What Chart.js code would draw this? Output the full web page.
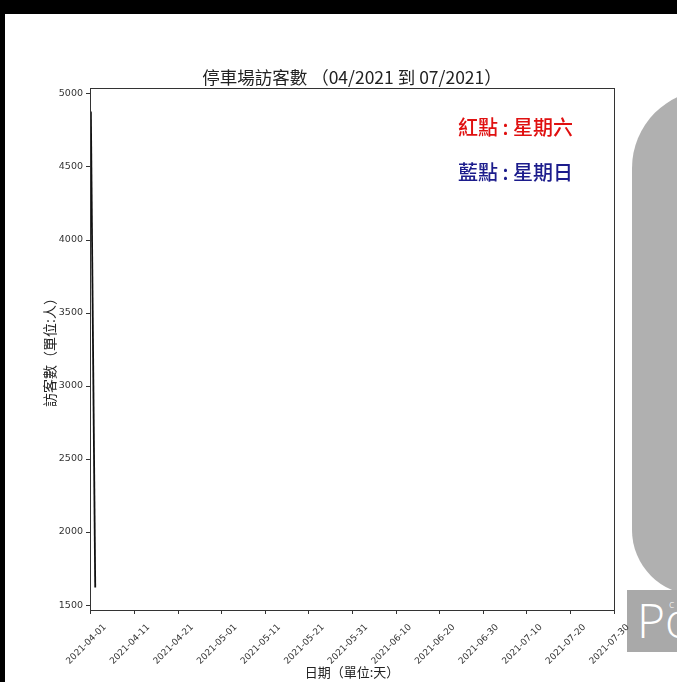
<!DOCTYPE html>
<html>
<head>
<meta charset="utf-8">
<script src="https://cdn.jsdelivr.net/npm/chart.js@4.4.0/dist/chart.umd.min.js"></script>
<style>
  body { margin: 0; background: #fff; }
  #wrap { position: relative; width: 677px; height: 682px; overflow: hidden; background: #fff; }
  #topbar { position: absolute; left: 0; top: 0; width: 677px; height: 14px; background: #000; }
  #leftbar { position: absolute; left: 0; top: 0; width: 5px; height: 682px; background: #000; }
  #panel { position: absolute; left: 632px; top: 90px; width: 140px; height: 505px; background: #b0b0b0; border-radius: 78px 0 0 65px; }
  #logo { position: absolute; left: 627px; top: 590px; width: 60px; height: 62px; background: #a9a9a9; color: #fff; overflow: hidden;
          font-family: "Open Sans", sans-serif; font-weight: 300; font-size: 48px; line-height: 60px; padding-left: 10px; box-sizing: border-box; white-space: nowrap; }
  #logo span { position: absolute; left: 42px; top: -16px; font-size: 11px; }
  canvas { position: absolute; left: 0; top: 0; }
</style>
</head>
<body>
<div id="wrap">
  <div id="panel"></div>
  <div id="logo">Po<span>c</span></div>
  <canvas id="parkChart" width="677" height="682"></canvas>
  <div id="topbar"></div>
  <div id="leftbar"></div>
</div>
<script>
// 停車場訪客數 (day offset from 2021-04-01)
var days = [0, 1];
var visitors = [4880, 1620];
var xTicks = [0, 10, 20, 30, 40, 50, 60, 70, 80, 90, 100, 110, 120];
var yTicks = [1500, 2000, 2500, 3000, 3500, 4000, 4500, 5000];
var startDate = new Date(2021, 3, 1);
var chartTitle = '停車場訪客數 （04/2021 到 07/2021）';
var notes = [
  { text: '紅點 : 星期六', color: '#e01010' },
  { text: '藍點 : 星期日', color: '#1c1c8c' }
];

function dayLabel(d) {
  var dt = new Date(startDate.getTime() + d * 86400000);
  var m = String(dt.getMonth() + 1).padStart(2, '0');
  var dd = String(dt.getDate()).padStart(2, '0');
  return dt.getFullYear() + '-' + m + '-' + dd;
}

var frameAndNotes = {
  id: 'frameAndNotes',
  afterDraw: function(chart) {
    var ctx = chart.ctx;
    var a = chart.chartArea;
    ctx.save();
    ctx.strokeStyle = '#333';
    ctx.lineWidth = 1;
    ctx.strokeRect(a.left + 0.5, a.top + 0.5, a.right - a.left, a.bottom - a.top);

    // title centred over the plot area
    ctx.fillStyle = '#222';
    ctx.font = '17.5px "Noto Sans CJK TC", sans-serif';
    ctx.textAlign = 'center';
    ctx.textBaseline = 'middle';
    ctx.fillText(chartTitle, (a.left + a.right) / 2, 77);

    ctx.font = '500 20px "Noto Sans CJK TC", sans-serif';
    ctx.textAlign = 'left';
    notes.forEach(function(n, i) {
      ctx.fillStyle = n.color;
      ctx.fillText(n.text, 458, 127 + i * 45);
    });
    ctx.restore();
  }
};

var ctxCanvas = document.getElementById('parkChart');
new Chart(ctxCanvas.getContext('2d'), {
  type: 'line',
  data: {
    datasets: [{
      data: days.map(function(d, i) { return { x: d, y: visitors[i] }; }),
      borderColor: '#111',
      borderWidth: 1.8,
      pointRadius: 0,
      tension: 0
    }]
  },
  options: {
    responsive: false,
    animation: false,
    layout: { padding: { left: 41, right: 63, top: 88, bottom: 0 } },
    plugins: {
      legend: { display: false },
      tooltip: { enabled: false },
      title: { display: false }
    },
    scales: {
      x: {
        type: 'linear',
        min: -0.2,
        max: 120,
        afterBuildTicks: function(scale) {
          scale.ticks = xTicks.map(function(v) { return { value: v }; });
        },
        afterFit: function(scale) { scale.height = 72; },
        grid: { drawOnChartArea: false, drawTicks: true, tickLength: 4, color: '#333' },
        border: { color: '#333' },
        ticks: {
          color: '#333',
          font: { family: '"DejaVu Sans", sans-serif', size: 9 },
          maxRotation: 45,
          minRotation: 45,
          padding: 8,
          labelOffset: 14,
          callback: function(v) { return dayLabel(v); }
        },
        title: {
          display: true,
          text: '日期（單位:天）',
          color: '#222',
          font: { family: '"Noto Sans CJK TC", sans-serif', size: 13 },
          padding: { top: 0, bottom: 2 }
        }
      },
      y: {
        min: 1466,
        max: 5041,
        afterBuildTicks: function(scale) {
          scale.ticks = yTicks.map(function(v) { return { value: v }; });
        },
        afterFit: function(scale) { scale.width = 49; },
        grid: { drawOnChartArea: false, drawTicks: true, tickLength: 4, color: '#333' },
        border: { color: '#333' },
        ticks: {
          color: '#333',
          font: { family: '"DejaVu Sans", sans-serif', size: 9.5 },
          padding: 3,
          callback: function(v) { return String(v); }
        },
        title: {
          display: true,
          text: '訪客數（單位:人）',
          color: '#222',
          font: { family: '"Noto Sans CJK TC", sans-serif', size: 14 },
          padding: { top: 0, bottom: 0 }
        }
      }
    }
  },
  plugins: [frameAndNotes]
});
</script>
</body>
</html>
